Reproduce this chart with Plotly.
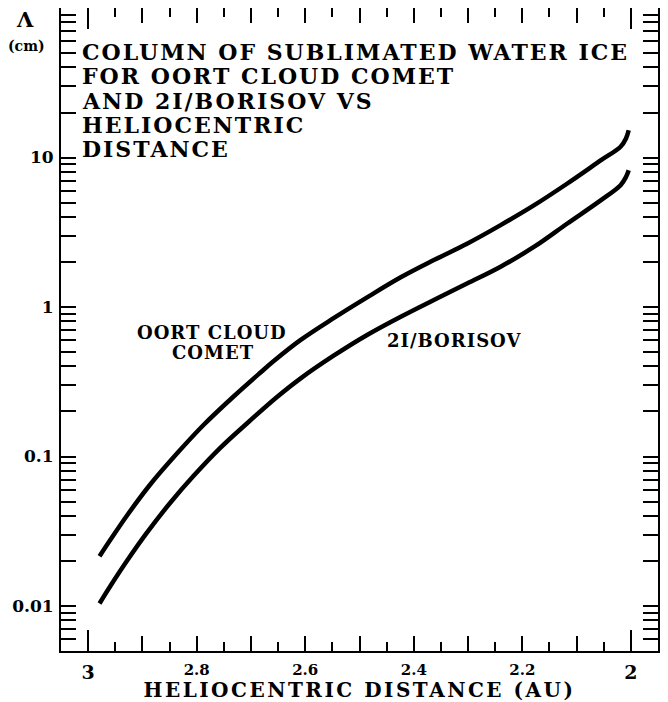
import numpy as np
import plotly.graph_objects as go

# ---- data ----
oort_r = [2.979, 2.959, 2.929, 2.886, 2.836, 2.787, 2.732, 2.683, 2.658, 2.609,
          2.547, 2.486, 2.424, 2.363, 2.301, 2.240, 2.178, 2.117, 2.055, 2.019,
          2.009, 2.004]
oort_lam = [0.0215, 0.0277, 0.0400, 0.0647, 0.105, 0.163, 0.252, 0.363, 0.435, 0.600,
            0.845, 1.16, 1.58, 2.06, 2.66, 3.53, 4.80, 6.70, 9.59, 11.8,
            13.4, 15.2]

bor_r = [2.979, 2.959, 2.929, 2.892, 2.849, 2.806, 2.757, 2.707, 2.652, 2.609,
         2.547, 2.486, 2.424, 2.363, 2.301, 2.240, 2.178, 2.117, 2.055, 2.019,
         2.009, 2.004]
bor_lam = [0.0104, 0.0136, 0.0199, 0.0308, 0.0489, 0.0740, 0.1138, 0.167, 0.250, 0.332,
           0.474, 0.650, 0.861, 1.114, 1.44, 1.86, 2.53, 3.62, 5.19, 6.53,
           7.41, 8.22]

x_major_ticks = [3.0, 2.9, 2.8, 2.7, 2.6, 2.5, 2.4, 2.3, 2.2, 2.1, 2.0]
x_major_text = ["", "", "2.8", "", "2.6", "", "2.4", "", "2.2", "", ""]
x_int_ticks = [3, 2]
x_int_text = ["3", "2"]
y_ticks = [0.01, 0.1, 1, 10]
y_text = ["0.01", "0.1", "1", "10"]
y_minor = [m * 10.0 ** k for k in range(-3, 2) for m in range(2, 10)]
y_minor = [v for v in y_minor if 0.005 <= v <= 100]

title_lines = ["COLUMN OF SUBLIMATED WATER ICE", "FOR OORT CLOUD COMET",
               "AND 2I/BORISOV VS", "HELIOCENTRIC", "DISTANCE"]

FONT = "DejaVu Serif"
X_RANGE = [3.05, 1.95]
Y_RANGE = [np.log10(0.005), 2]


def spaced(txt, px_):
    return '<span style="letter-spacing:%spx">%s</span>' % (px_, txt)


fig = go.Figure()
line = dict(color="black", width=4.5, shape="spline", smoothing=1.0)
fig.add_trace(go.Scatter(x=oort_r, y=oort_lam, mode="lines", line=line,
                         hoverinfo="skip", showlegend=False))
fig.add_trace(go.Scatter(x=bor_r, y=bor_lam, mode="lines", line=line,
                         hoverinfo="skip", showlegend=False))
# helper trace so the integer-tick overlay axis is drawn
fig.add_trace(go.Scatter(x=bor_r, y=bor_lam, mode="lines", xaxis="x2",
                         line=dict(color="rgba(0,0,0,0)", width=0),
                         hoverinfo="skip", showlegend=False))

axis_common = dict(showline=True, linewidth=2, linecolor="black", mirror="allticks",
                   ticks="inside", tickwidth=2, tickcolor="black",
                   showgrid=False, zeroline=False, automargin=False)

# the page body adds an 8px offset, so the figure is 8px smaller than the window
fig.update_layout(
    width=660, height=694,
    margin=dict(l=53, r=10, t=0, b=51),
    paper_bgcolor="white", plot_bgcolor="white",
    font=dict(family=FONT, color="black", weight="bold"),
    xaxis=dict(range=X_RANGE, tickmode="array", tickvals=x_major_ticks,
               ticktext=x_major_text, ticklen=15, ticklabelstandoff=4,
               tickfont=dict(family=FONT, size=15, weight="bold"),
               minor=dict(dtick=0.05, tick0=2.0, ticks="inside", ticklen=9,
                          tickwidth=2, tickcolor="black"),
               title=dict(text=spaced("HELIOCENTRIC DISTANCE (AU)", 2.5),
                          font=dict(family=FONT, size=20, weight="bold"), standoff=8),
               **axis_common),
    xaxis2=dict(range=X_RANGE, overlaying="x", anchor="y", side="bottom",
                tickmode="array", tickvals=x_int_ticks, ticktext=x_int_text,
                ticklen=21, ticklabelstandoff=3,
                tickfont=dict(family=FONT, size=19, weight="bold"),
                **axis_common),
    yaxis=dict(type="log", range=Y_RANGE, tickmode="array", tickvals=y_ticks,
               ticktext=y_text, ticklen=15, ticklabelstandoff=2,
               tickfont=dict(family=FONT, size=17, weight="bold"),
               minor=dict(tickvals=y_minor, ticks="inside", ticklen=9,
                          tickwidth=2, tickcolor="black"),
               **axis_common),
)

# plot-area geometry in page pixels (for placing text in paper coordinates)
L, R, T, B = 61, 658, 8, 651
def px(xp):
    return (xp - L) / (R - L)
def py(yp):
    return (B - yp) / (B - T)

ann = []
line_y = [52, 76.3, 100.6, 124.9, 149.2]
for txt, yy in zip(title_lines, line_y):
    ann.append(dict(text=spaced(txt, 2), xref="paper", yref="paper",
                    x=px(80), y=py(yy), xanchor="left", yanchor="middle",
                    showarrow=False, font=dict(family=FONT, size=22, weight="bold")))
ann.append(dict(text="Λ", xref="paper", yref="paper", x=px(25), y=py(19),
                xanchor="center", yanchor="middle", showarrow=False,
                font=dict(family=FONT, size=21, weight="bold")))
ann.append(dict(text="(cm)", xref="paper", yref="paper", x=px(26), y=py(46),
                xanchor="center", yanchor="middle", showarrow=False,
                font=dict(family=FONT, size=14, weight="bold")))
ann.append(dict(text=spaced("OORT CLOUD", 1), xref="paper", yref="paper",
                x=px(212), y=py(332.5), xanchor="center", yanchor="middle",
                showarrow=False, font=dict(family=FONT, size=18, weight="bold")))
ann.append(dict(text=spaced("COMET", 1), xref="paper", yref="paper",
                x=px(212.5), y=py(352.5), xanchor="center", yanchor="middle",
                showarrow=False, font=dict(family=FONT, size=18, weight="bold")))
ann.append(dict(text=spaced("2I/BORISOV", 1), xref="paper", yref="paper",
                x=px(453.5), y=py(340), xanchor="center", yanchor="middle",
                showarrow=False, font=dict(family=FONT, size=18, weight="bold")))
fig.update_layout(annotations=ann)

fig.write_html("out.html")
